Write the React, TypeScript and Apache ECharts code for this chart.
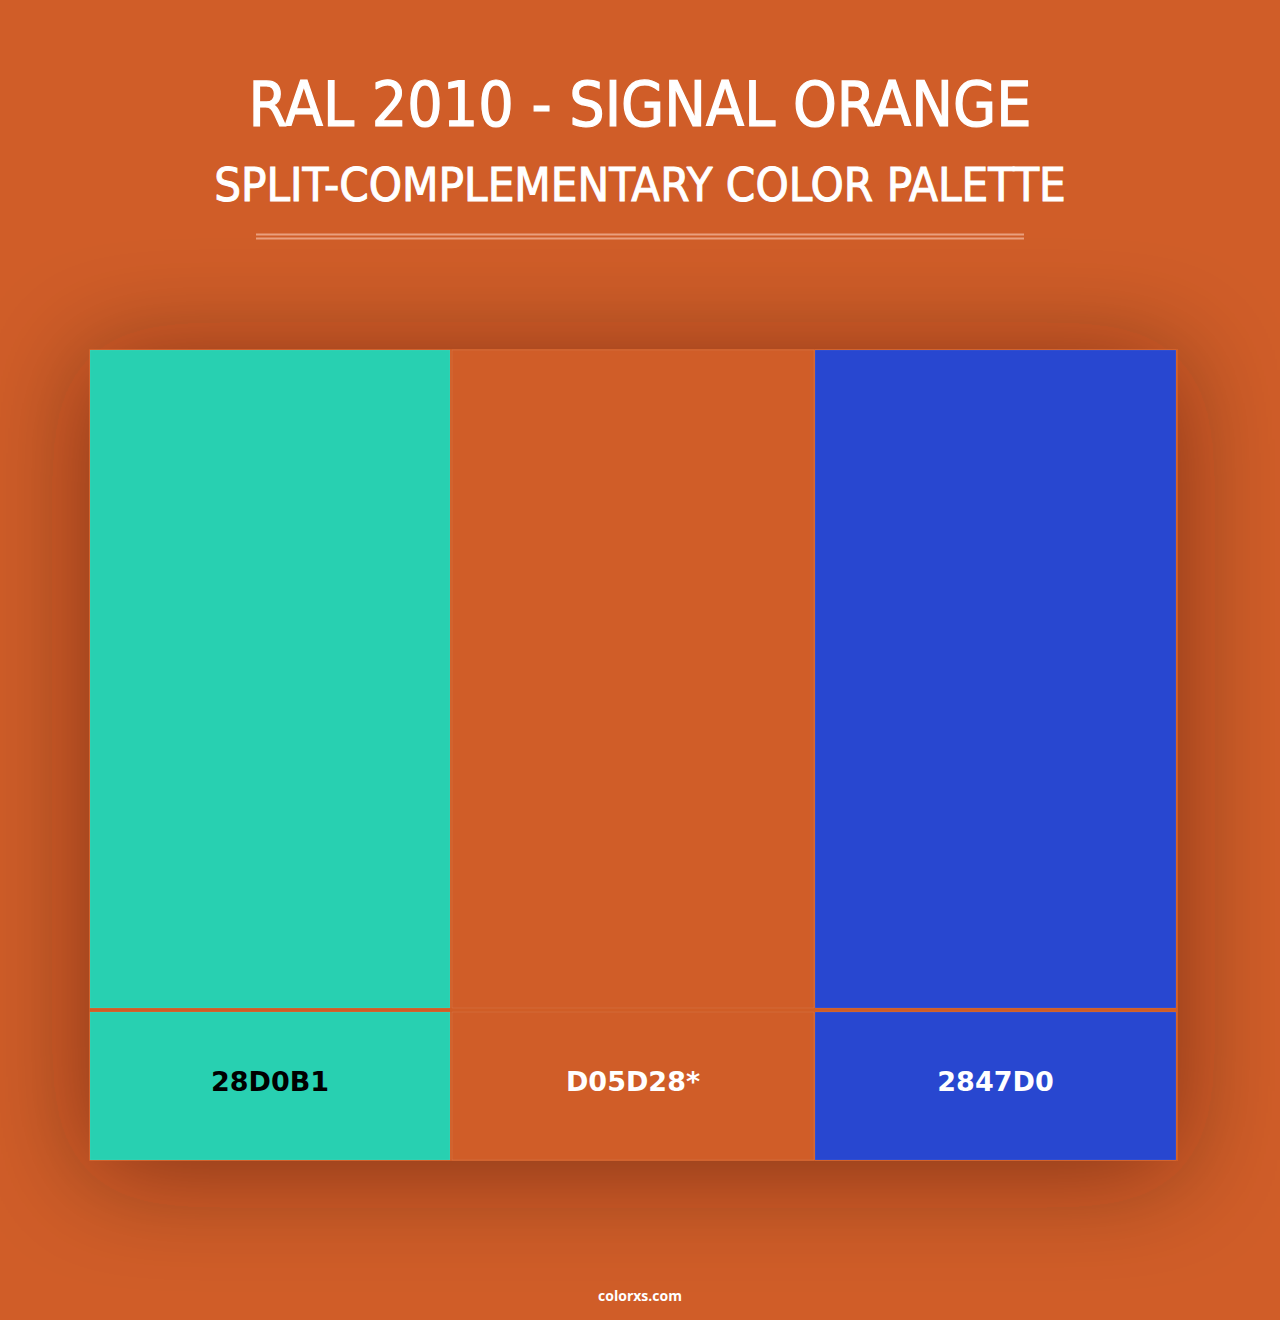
import React, { useEffect, useRef } from "react";
import * as echarts from "echarts";

const TITLE = "RAL 2010 - SIGNAL ORANGE";
const SUBTITLE = "SPLIT-COMPLEMENTARY COLOR PALETTE";
const FOOTER = "colorxs.com";
const BG = "#D05D28";
const swatchColors = ["#28D0B1", "#D05D28", "#2847D0"];
const swatchLabels = ["28D0B1", "D05D28*", "2847D0"];
const labelColors = ["#000000", "#ffffff", "#ffffff"];

export default function App() {
  const ref = useRef<HTMLDivElement>(null);
  useEffect(() => {
    document.body.style.margin = "0";
    const chart = echarts.init(ref.current!, null, { renderer: "svg" });
    const cardX = 90, cardY = 350, cardW = 1087, topH = 658, botY = 1012, botH = 148;
    const colW = [360, 362, 361];
    const colX = [90, 452, 815];
    const elements: any[] = [];
    elements.push({
      type: "rect",
      shape: { x: cardX - 1, y: cardY - 1, width: cardW + 2, height: botY + botH - cardY + 2 },
      style: { fill: BG, shadowBlur: 110, shadowColor: "rgba(40,10,0,0.45)", shadowOffsetY: 10 },
    });
    swatchColors.forEach((c, i) => {
      elements.push({
        type: "rect",
        shape: { x: colX[i], y: cardY, width: colW[i], height: topH },
        style: { fill: c, stroke: "rgba(255,255,255,0.08)", lineWidth: 1 },
      });
      elements.push({
        type: "rect",
        shape: { x: colX[i], y: botY, width: colW[i], height: botH },
        style: { fill: c, stroke: "rgba(255,255,255,0.08)", lineWidth: 1 },
      });
      elements.push({
        type: "text",
        x: colX[i] + colW[i] / 2,
        y: 1081,
        style: {
          text: swatchLabels[i],
          fill: labelColors[i],
          font: "bold 27px 'DejaVu Sans'",
          textAlign: "center",
          textVerticalAlign: "middle",
        },
      });
    });
    elements.push({
      type: "text", x: 640, y: 104,
      style: { text: TITLE, fill: "#ffffff", stroke: "#ffffff", lineWidth: 1.2, font: "normal 62px 'DejaVu Sans Condensed', 'Open Sans'", textAlign: "center", textVerticalAlign: "middle" },
    });
    elements.push({
      type: "text", x: 640, y: 184,
      style: { text: SUBTITLE, fill: "#ffffff", stroke: "#ffffff", lineWidth: 1, font: "normal 47px 'DejaVu Sans Condensed', 'Open Sans'", textAlign: "center", textVerticalAlign: "middle" },
    });
    elements.push({ type: "line", shape: { x1: 256, y1: 234.5, x2: 1024, y2: 234.5 }, style: { stroke: "#E9A07E", lineWidth: 2 } });
    elements.push({ type: "line", shape: { x1: 256, y1: 238.5, x2: 1024, y2: 238.5 }, style: { stroke: "#E9A07E", lineWidth: 2 } });
    elements.push({
      type: "text", x: 640, y: 1295,
      style: { text: FOOTER, fill: "#ffffff", font: "bold 14px 'Open Sans'", textAlign: "center", textVerticalAlign: "middle" },
    });
    chart.setOption({
      animation: false,
      backgroundColor: BG,
      graphic: { elements },
    });
    return () => chart.dispose();
  }, []);
  return <div ref={ref} style={{ width: 1280, height: 1320 }} />;
}
